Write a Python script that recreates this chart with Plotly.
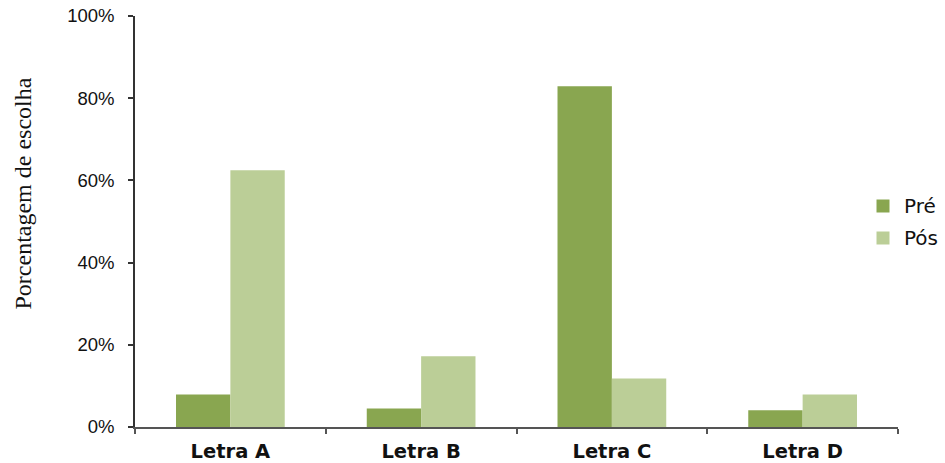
import plotly.graph_objects as go

categories = ["Letra A", "Letra B", "Letra C", "Letra D"]
pre_values = [0.079, 0.045, 0.829, 0.041]
pos_values = [0.625, 0.172, 0.118, 0.079]
y_ticks = [0, 0.2, 0.4, 0.6, 0.8, 1.0]
series_names = ["Pré", "Pós"]
series_colors = ["#89A650", "#BBCE97"]

# figure geometry (pixels)
W, H = 945, 463
L, R, T, B = 135, 47, 16, 36
PW, PH = W - L - R, H - T - B


def px_x(px):
    return (px - L) / PW


def px_y(py):
    return (H - B - py) / PH


fig = go.Figure()
for name, vals, color in zip(series_names, [pre_values, pos_values], series_colors):
    fig.add_trace(go.Bar(
        x=categories, y=vals, name=name,
        marker=dict(color=color, line=dict(width=0)),
        showlegend=False,
    ))

fig.update_layout(
    width=W, height=H,
    margin=dict(l=L, r=R, t=T, b=B, pad=0),
    paper_bgcolor="white", plot_bgcolor="white",
    barmode="group", bargap=0.43, bargroupgap=0,
    font=dict(family="Liberation Sans, Arial, sans-serif", color="#111111"),
    showlegend=False,
)

fig.update_yaxes(
    range=[0, 1.0], tickvals=y_ticks, tickformat=".0%",
    automargin=False,
    showgrid=False, zeroline=False,
    showline=True, linecolor="#333333", linewidth=1.5,
    ticks="outside", ticklen=5, tickcolor="#333333", tickwidth=1.5,
    ticklabelstandoff=10,
    tickfont=dict(size=18.5, family="Liberation Sans, Arial, sans-serif", color="#111111"),
)
fig.update_xaxes(
    automargin=False,
    showgrid=False, zeroline=False,
    showline=True, linecolor="#555555", linewidth=1.5,
    ticks="outside", tickson="boundaries", ticklen=5, tickcolor="#555555", tickwidth=1.5,
    ticklabelstandoff=6,
    tickfont=dict(size=19.5, family="DejaVu Sans, sans-serif", color="#111111",
                  weight="bold"),
)

# legend: colour swatch + label per series
legend_centers = [206, 238]
for name, color, cy in zip(series_names, series_colors, legend_centers):
    fig.add_shape(
        type="rect", xref="paper", yref="paper",
        x0=px_x(876.5), x1=px_x(889.5), y0=px_y(cy + 6.5), y1=px_y(cy - 6.5),
        fillcolor=color, line=dict(width=0),
    )
    fig.add_annotation(
        text=name, xref="paper", yref="paper",
        x=px_x(902), y=px_y(cy), xanchor="left", yanchor="middle",
        showarrow=False,
        font=dict(size=20, family="DejaVu Sans, sans-serif", color="#111111"),
    )

fig.add_annotation(
    text="Porcentagem de escolha", textangle=-90,
    xref="paper", yref="paper", x=px_x(22), y=px_y(193.5),
    xanchor="center", yanchor="middle", showarrow=False,
    font=dict(size=24, family="Liberation Serif, Times New Roman, serif", color="#111111"),
)

fig.write_html("out.html")
